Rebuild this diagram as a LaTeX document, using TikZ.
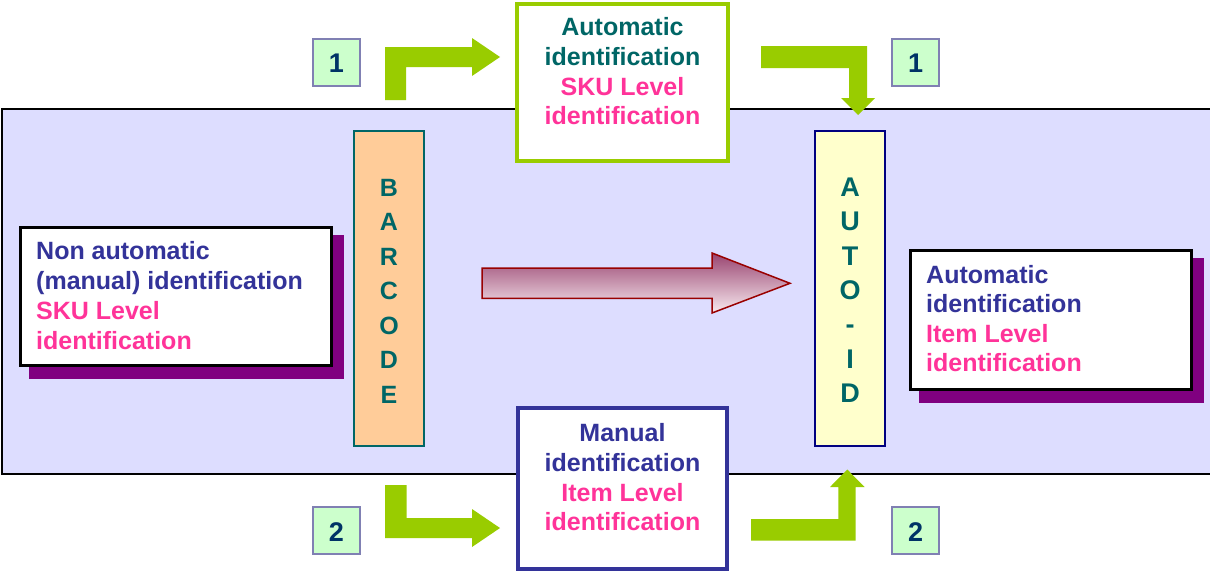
\documentclass[tikz,border=0pt]{standalone}
\usepackage{fontspec}
\setmainfont{Liberation Sans}
\definecolor{lav}{HTML}{DDDDFF}
\definecolor{lgreen}{HTML}{99CC00}
\definecolor{indig}{HTML}{333399}
\definecolor{pink}{HTML}{FF3399}
\definecolor{teal}{HTML}{006666}
\definecolor{purp}{HTML}{800080}
\definecolor{lblfill}{HTML}{CCFFCC}
\definecolor{lbldraw}{HTML}{8080B3}
\definecolor{numcol}{HTML}{003366}
\definecolor{peach}{HTML}{FFCC99}
\definecolor{lyel}{HTML}{FFFFCC}
\definecolor{navy}{HTML}{000080}
\definecolor{darkred}{HTML}{990000}
\definecolor{mauve}{HTML}{994470}
\definecolor{pale}{HTML}{F8EAF0}
\tikzset{
  txt/.style={inner sep=0pt, font=\fontsize{25}{30}\selectfont\bfseries},
  ltxt/.style={txt, anchor=base west},
  ctxt/.style={txt, anchor=base},
  bigtxt/.style={inner sep=0pt, anchor=base, font=\fontsize{27}{30}\selectfont\bfseries},
  lblbox/.style={fill=lblfill, draw=lbldraw, line width=1.5pt},
  numtxt/.style={bigtxt, text=numcol},
  greenarrow/.style={fill=lgreen, draw=none},
}
\begin{document}
\begin{tikzpicture}[x=1pt,y=-1pt]
\useasboundingbox (0,0) rectangle (1210,573);
\fill[white] (0,0) rectangle (1210,573);
% background panel
\draw[fill=lav, line width=1.5pt] (2,109) rectangle (1216,474);

% top box
\draw[fill=white, draw=lgreen, line width=4pt] (517,4) rectangle (728,161);
\node[ctxt, text=teal] (t1) at (622.5,35) {Automatic};
\node[ctxt, text=teal] (t2) at (622.5,65) {identification};
\node[ctxt, text=pink] (t3) at (622.5,95) {SKU Level};
\node[ctxt, text=pink] (t4) at (622.5,124.5) {identification};

% bottom box
\draw[fill=white, draw=indig, line width=4pt] (518,408) rectangle (727,569);
\node[ctxt, text=indig] (b1) at (622.5,441) {Manual};
\node[ctxt, text=indig] (b2) at (622.5,471) {identification};
\node[ctxt, text=pink] (b3) at (622.5,501) {Item Level};
\node[ctxt, text=pink] (b4) at (622.5,530) {identification};

% left box with shadow
\fill[purp] (29,235) rectangle (344,379);
\draw[fill=white, line width=3pt] (20.5,227) rectangle (331.5,365);
\node[ltxt, text=indig] (l1) at (36,259) {Non automatic};
\node[ltxt, text=indig] (l2) at (36,289) {(manual) identification};
\node[ltxt, text=pink] (l3) at (36,319) {SKU Level};
\node[ltxt, text=pink] (l4) at (36,349) {identification};

% right box with shadow
\fill[purp] (919,258) rectangle (1204,403);
\draw[fill=white, line width=3pt] (910.5,250.5) rectangle (1191.5,389.5);
\node[ltxt, text=indig] (r1) at (926,283) {Automatic};
\node[ltxt, text=indig] (r2) at (926,312.5) {identification};
\node[ltxt, text=pink] (r3) at (926,342) {Item Level};
\node[ltxt, text=pink] (r4) at (926,371.5) {identification};

% BARCODE bar
\draw[fill=peach, draw=teal, line width=2pt] (354,131) rectangle (424,446);
\foreach \ch [count=\i from 0] in {B,A,R,C,O,D,E}
  \node[ctxt, text=teal] (bc\i) at (389,196+34.5*\i) {\ch};

% AUTO-ID bar
\draw[fill=lyel, draw=navy, line width=2pt] (815,131) rectangle (885,446);
\foreach \ch [count=\i from 0] in {A,U,T,O,-,I,D}
  \node[bigtxt, text=teal] (ai\i) at (850,196.5+34.3*\i) {\ch};

% big central arrow
\shade[top color=mauve, bottom color=pale]
  (482,268) -- (712,268) -- (712,253) -- (790,283.3) -- (712,313) -- (712,298.3) -- (482,298.3) -- cycle;
\draw[darkred, line width=1.5pt, line join=miter]
  (482,268) -- (712,268) -- (712,253) -- (790,283.3) -- (712,313) -- (712,298.3) -- (482,298.3) -- cycle;

% green elbow arrows
\fill[greenarrow] (385,100) -- (385,47) -- (472,47) -- (472,38) -- (500,57) -- (472,76) -- (472,67) -- (406,67) -- (406,100) -- cycle;
\fill[greenarrow] (761,46) -- (867,46) -- (867,98) -- (875,98) -- (858,115) -- (841,98) -- (849,98) -- (849,68) -- (761,68) -- cycle;
\fill[greenarrow] (385,485) -- (406.5,485) -- (406.5,518) -- (472,518) -- (472,509) -- (500,528) -- (472,547) -- (472,538) -- (385,538) -- cycle;
\fill[greenarrow] (751,519) -- (838.3,519) -- (838.3,487) -- (830,487) -- (847.3,469.5) -- (864.5,487) -- (855.7,487) -- (855.7,540.7) -- (751,540.7) -- cycle;

% number labels
\draw[lblbox] (313,39) rectangle (360,86);
\node[numtxt] (n1a) at (336.5,72.5) {1};
\draw[lblbox] (892,39) rectangle (939,86);
\node[numtxt] (n1b) at (915.5,72.5) {1};
\draw[lblbox] (313,507) rectangle (360,554);
\node[numtxt] (n2a) at (336.5,541.5) {2};
\draw[lblbox] (892,507) rectangle (939,554);
\node[numtxt] (n2b) at (915.5,541.5) {2};
\end{tikzpicture}
\end{document}
